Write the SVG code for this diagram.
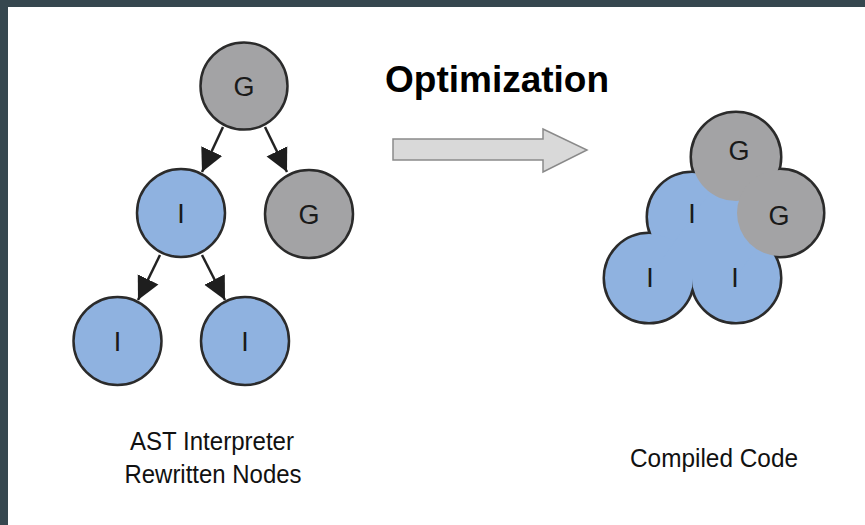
<svg xmlns="http://www.w3.org/2000/svg" width="865" height="525" viewBox="0 0 865 525">
<style>
  .g { fill: #a3a3a5; stroke: #2b2b2b; stroke-width: 2.5; }
  .i { fill: #8fb2e0; stroke: #2b2b2b; stroke-width: 2.5; }
  .lbl { font-family: "Liberation Sans", Arial, sans-serif; font-size: 27px; fill: #1a1a1a; text-anchor: middle; }
  .cap { font-family: "Liberation Sans", Arial, sans-serif; font-size: 26px; fill: #111; text-anchor: middle; }
  .edge { stroke: #222; stroke-width: 2.5; fill: none; marker-end: url(#ah); }
  .ring { fill: none; stroke: #2b2b2b; stroke-width: 5; }
  .fg { fill: #a3a3a5; }
  .fi { fill: #8fb2e0; }
</style>
<defs>
  <marker id="ah" markerUnits="userSpaceOnUse" markerWidth="26" markerHeight="26" viewBox="0 0 26 26" refX="23" refY="13" orient="auto">
    <path d="M0,1.5 L23,13 L0,24.5 Z" fill="#1e1e1e"/>
  </marker>
</defs>
<rect x="0" y="0" width="865" height="525" fill="#ffffff"/>
<rect x="0" y="0" width="865" height="7" fill="#36474f"/>
<rect x="0" y="0" width="8" height="525" fill="#36474f"/>

<g id="connectors">
  <line class="edge" x1="223" y1="127" x2="202" y2="172"/>
  <line class="edge" x1="265" y1="127" x2="287" y2="172"/>
  <line class="edge" x1="160" y1="255" x2="138" y2="300"/>
  <line class="edge" x1="202" y1="255" x2="225" y2="300"/>
</g>

<g id="node-g-root">
  <circle class="g" cx="244" cy="86" r="43.5"/>
  <text class="lbl" x="244" y="96">G</text>
</g>
<g id="node-i-mid">
  <circle class="i" cx="181" cy="213" r="44"/>
  <text class="lbl" x="181" y="223">I</text>
</g>
<g id="node-g-right">
  <circle class="g" cx="309" cy="214" r="44"/>
  <text class="lbl" x="309" y="224">G</text>
</g>
<g id="node-i-left">
  <circle class="i" cx="117.5" cy="341" r="44"/>
  <text class="lbl" x="117.5" y="351">I</text>
</g>
<g id="node-i-right">
  <circle class="i" cx="245" cy="341" r="44"/>
  <text class="lbl" x="245" y="351">I</text>
</g>

<g id="label-ast">
  <text class="cap" x="212" y="450" textLength="164" lengthAdjust="spacingAndGlyphs">AST Interpreter</text>
  <text class="cap" x="213" y="483" textLength="177" lengthAdjust="spacingAndGlyphs">Rewritten Nodes</text>
</g>

<g id="optimization">
  <text x="385" y="92" font-family="Liberation Sans, Arial, sans-serif" font-size="37" font-weight="bold" fill="#000">Optimization</text>
  <path d="M393,139 L543,139 L543,129 L587,150 L543,172 L543,160 L393,160 Z" fill="#d9d9d9" stroke="#8a8a8a" stroke-width="1.5"/>
</g>

<g id="compiled-code">
  <circle class="ring" cx="692" cy="217" r="44"/>
  <circle class="ring" cx="649" cy="278" r="44"/>
  <circle class="ring" cx="736" cy="278" r="44"/>
  <circle class="ring" cx="736" cy="157" r="44"/>
  <circle class="ring" cx="780" cy="213" r="43"/>
  <circle class="fi" cx="692" cy="217" r="44"/>
  <circle class="fi" cx="649" cy="278" r="44"/>
  <circle class="fi" cx="736" cy="278" r="44"/>
  <polygon class="fi" points="692,217 736,157 780,213 736,278 692,278 649,278"/>
  <circle class="fg" cx="736" cy="157" r="44"/>
  <circle class="fg" cx="780" cy="213" r="43"/>
  <text class="lbl" x="739" y="160">G</text>
  <text class="lbl" x="779" y="225">G</text>
  <text class="lbl" x="692" y="223">I</text>
  <text class="lbl" x="650" y="287">I</text>
  <text class="lbl" x="735" y="287">I</text>
</g>

<g id="label-compiled">
  <text class="cap" x="714" y="467" textLength="168" lengthAdjust="spacingAndGlyphs">Compiled Code</text>
</g>
</svg>
